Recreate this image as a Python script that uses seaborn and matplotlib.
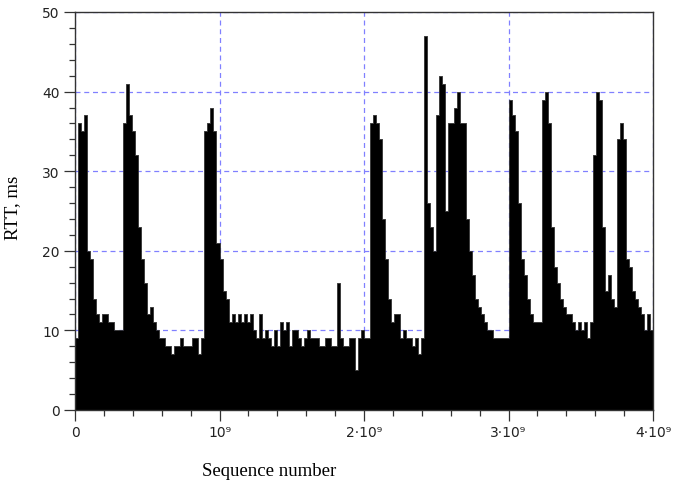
import numpy as np
import pandas as pd
import matplotlib
matplotlib.use("Agg")
import matplotlib.pyplot as plt
import seaborn as sns
from matplotlib.ticker import MultipleLocator, FixedLocator

# RTT (ms) per sequence-number bin (192 bins over 0..4e9)
rtt = [
    9, 36, 35, 37, 20, 19, 14, 12, 11, 12, 12, 11, 11, 10, 10, 10,
    36, 41, 37, 35, 32, 23, 19, 16, 12, 13, 11, 10, 9, 9, 8, 8,
    7, 8, 8, 9, 8, 8, 8, 9, 9, 7, 9, 35, 36, 38, 35, 21,
    19, 15, 14, 11, 12, 11, 12, 11, 12, 11, 12, 10, 9, 12, 9, 10,
    9, 8, 10, 8, 11, 10, 11, 8, 10, 10, 9, 8, 9, 10, 9, 9,
    9, 8, 8, 9, 9, 8, 8, 16, 9, 8, 8, 9, 9, 5, 9, 10,
    9, 9, 36, 37, 36, 34, 24, 19, 14, 11, 12, 12, 9, 10, 9, 9,
    8, 9, 7, 9, 47, 26, 23, 20, 37, 42, 41, 25, 36, 36, 38, 40,
    36, 36, 24, 20, 17, 14, 13, 12, 11, 10, 10, 9, 9, 9, 9, 9,
    39, 37, 35, 26, 19, 17, 14, 12, 11, 11, 11, 39, 40, 36, 23, 18,
    16, 14, 13, 12, 12, 11, 10, 11, 10, 11, 9, 11, 32, 40, 39, 23,
    15, 17, 14, 13, 34, 36, 34, 19, 18, 15, 14, 13, 12, 10, 12, 10,
]
seq_max = 4e9
x_ticks = [0, 1e9, 2e9, 3e9, 4e9]
x_tick_labels = ["0", "10⁹", "2·10⁹", "3·10⁹", "4·10⁹"]
y_ticks = [0, 10, 20, 30, 40, 50]

n = len(rtt)
edges = np.linspace(0, seq_max, n + 1)
seq = (edges[:-1] + edges[1:]) / 2
df = pd.DataFrame({"seq": seq, "rtt": rtt})

sns.set_style("ticks")
fig = plt.figure(figsize=(6.73, 4.85), dpi=100)
ax = fig.add_axes([75 / 673, (485 - 411) / 485, 578 / 673, 398 / 485])

sns.histplot(data=df, x="seq", weights="rtt", bins=n, binrange=(0, seq_max),
             element="step", fill=True, color="black", alpha=1.0,
             linewidth=0.6, edgecolor="#333333", ax=ax)

ax.set_xlim(0, seq_max)
ax.set_ylim(0, 50)
ax.xaxis.set_major_locator(FixedLocator(x_ticks))
ax.set_xticklabels(x_tick_labels)
ax.xaxis.set_minor_locator(MultipleLocator(2e8))
ax.yaxis.set_major_locator(FixedLocator(y_ticks))
ax.yaxis.set_minor_locator(MultipleLocator(2))

ax.set_axisbelow(True)
ax.grid(True, which="major", color="#8080ff", linestyle=(0, (4, 3)), linewidth=0.9)

for s in ax.spines.values():
    s.set_visible(True)
    s.set_color("#333333")
    s.set_linewidth(1.0)

ax.tick_params(which="major", direction="out", length=8, width=0.9, color="#333333",
               labelsize=10, labelcolor="#222222", pad=3)
ax.tick_params(which="minor", direction="out", length=4.5, width=0.9, color="#333333")
ax.tick_params(top=False, right=False)
for lab in ax.get_xticklabels() + ax.get_yticklabels():
    lab.set_family(["DejaVu Sans"])

ax.set_xlabel("Sequence number", family=["Liberation Serif"], fontsize=13.5, color="black")
ax.set_ylabel("RTT, ms", family=["Liberation Serif"], fontsize=13.5, color="black")
ax.xaxis.set_label_coords((269 - 75) / 578, -0.13)
ax.yaxis.set_label_coords((21 - 75) / 578, 0.51)

fig.savefig("out.png", dpi=100)
